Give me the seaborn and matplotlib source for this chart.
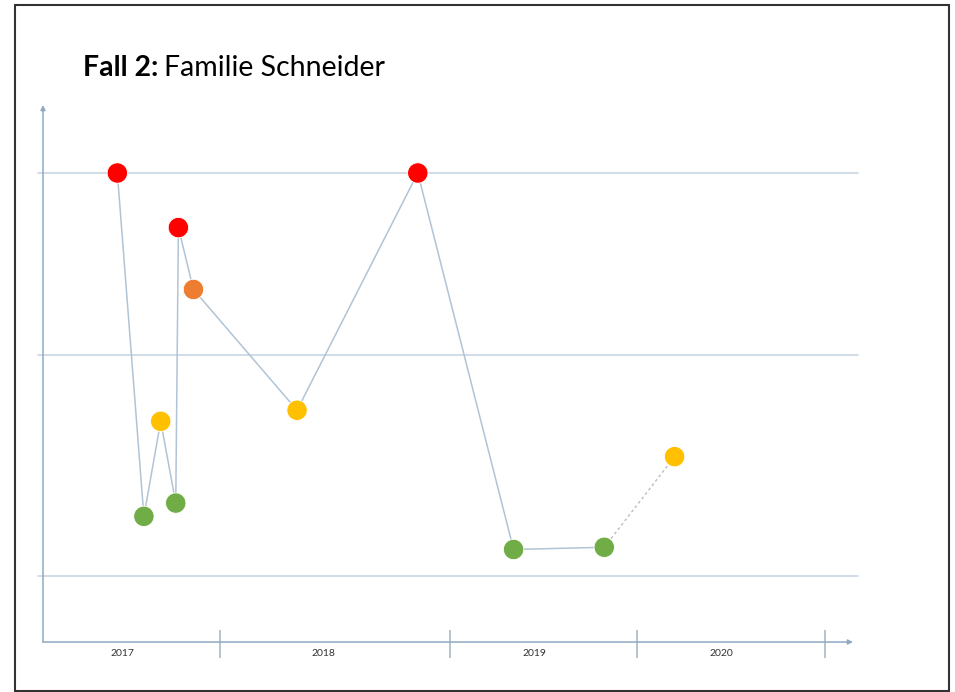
import matplotlib
matplotlib.use("Agg")
import matplotlib.pyplot as plt
import matplotlib.patches as patches
import numpy as np
import pandas as pd
import seaborn as sns

# --- data -------------------------------------------------------------
# time of each event (decimal year) and its level (1..3 = guide lines)
event_time = [2017.42, 2017.57, 2017.665, 2017.75, 2017.765, 2017.85,
              2018.335, 2018.86, 2019.34, 2019.825, 2020.2]
event_level = [3.0, 1.27, 1.70, 1.33, 2.70, 2.36, 1.75, 3.0, 1.12, 1.13, 1.54]
event_colour = ["rot", "grün", "gelb", "grün", "rot", "orange", "gelb",
                "rot", "grün", "grün", "gelb"]
years = [2017, 2018, 2019, 2020]
guide_levels = [1, 2, 3]

palette = {"rot": "#ff0000", "grün": "#70ad47", "gelb": "#ffc000",
           "orange": "#ed7d31"}

# the hand-drawn axes have uneven spacing -> piecewise scales
x_edges = [2017, 2018, 2019, 2020, 2021, 2021.15]
x_px = [0, 177, 407, 594, 782, 810]
y_edges = [0, 1, 2, 3, 3.4]
y_px = [0, 66, 287, 469, 537]


def piecewise(edges, px):
    fwd = lambda v: np.interp(v, edges, px)
    inv = lambda p: np.interp(p, px, edges)
    return fwd, inv


df = pd.DataFrame({"zeit": event_time, "stufe": event_level,
                   "farbe": event_colour})

sns.set_style("white")
plt.rcParams['font.family'] = ['Lato', 'DejaVu Sans']

W, H = 955, 692
fig = plt.figure(figsize=(W / 100, H / 100), dpi=100)
ax = fig.add_axes([43 / W, 50 / H, 810 / W, 537 / H])
ax.set_xscale("function", functions=piecewise(x_edges, x_px))
ax.set_yscale("function", functions=piecewise(y_edges, y_px))
ax.set_xlim(x_edges[0], x_edges[-1])
ax.set_ylim(y_edges[0], y_edges[-1])

line_col = "#b0c4d6"
# guide lines
for lv in guide_levels:
    ax.axhline(lv, xmin=-0.006, xmax=1.006, color="#c8d6e2", lw=1.2,
               clip_on=False, zorder=1)

# solid connections, then dotted last step
sns.lineplot(data=df.iloc[:-1], x="zeit", y="stufe", sort=False,
             color=line_col, lw=1.1, ax=ax, zorder=2)
sns.lineplot(data=df.iloc[-2:], x="zeit", y="stufe", sort=False,
             color="#bdbdbd", lw=1.0, ls=(0, (2, 2)), ax=ax, zorder=2)
sns.scatterplot(data=df, x="zeit", y="stufe", hue="farbe", palette=palette,
                s=215, edgecolor="white", linewidth=0.6, legend=False,
                ax=ax, zorder=3)

# axes with arrows
ax_col = "#8ea9c1"
for spine in ax.spines.values():
    spine.set_visible(False)
ax.annotate("", xy=(0, 1), xytext=(0, 0), xycoords="axes fraction",
            arrowprops=dict(arrowstyle="-|>", color=ax_col, lw=1.1,
                            mutation_scale=7, shrinkA=0, shrinkB=0))
ax.annotate("", xy=(1, 0), xytext=(0, 0), xycoords="axes fraction",
            arrowprops=dict(arrowstyle="-|>", color=ax_col, lw=1.1,
                            mutation_scale=7, shrinkA=0, shrinkB=0))
ax.vlines([y + 1 for y in years], -0.03, 0.022, color="#9fb4c8", lw=1.1,
          transform=ax.get_xaxis_transform(), clip_on=False)

ax.set_xticks([y + 0.45 for y in years])
ax.set_xticklabels([str(y) for y in years])
ax.set_yticks([])
ax.tick_params(axis="x", length=0, pad=5, labelsize=7.5, labelcolor="#333333")
ax.set_xlabel("")
ax.set_ylabel("")

# title (bold prefix + regular rest)
t1 = fig.text(83 / W, 1 - 76 / H, "Fall 2:", fontsize=20.5, fontweight="bold",
              color="black", va="baseline")
fig.canvas.draw()
bb = t1.get_window_extent()
fig.text(bb.x1 / W + 6 / W, 1 - 76 / H, "Familie Schneider", fontsize=20.5,
         color="black", va="baseline")

# frame round the picture
fig.patches.append(patches.Rectangle((15 / W, 1 - 691 / H), 934 / W, 686 / H,
                                     transform=fig.transFigure, fill=False,
                                     edgecolor="#333333", lw=1.5))

fig.savefig("out.png", dpi=100)
